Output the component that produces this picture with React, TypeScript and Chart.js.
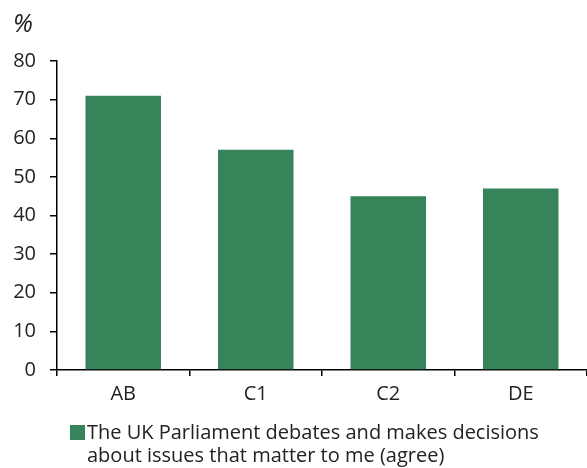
import React, { useEffect, useRef } from "react";
import { Chart, registerables } from "chart.js";

Chart.register(...registerables);

const categories = ["AB", "C1", "C2", "DE"];
const values = [71, 57, 45, 47];
const seriesLabel = "The UK Parliament debates and makes decisions about issues that matter to me (agree)";
const legendLines = ["The UK Parliament debates and makes decisions", "about issues that matter to me (agree)"];
const yTicks = [0, 10, 20, 30, 40, 50, 60, 70, 80];
const unitLabel = "%";

const FONT = "'Open Sans', sans-serif";
const GREEN = "#37845b";

export default function App() {
  const ref = useRef<HTMLCanvasElement | null>(null);
  useEffect(() => {
    document.body.style.margin = "0";
    const extras = {
      id: "extras",
      afterDraw(chart: any) {
        const ctx = chart.ctx;
        ctx.save();
        ctx.fillStyle = "#222";
        ctx.font = `italic 25px ${FONT}`;
        ctx.textBaseline = "alphabetic";
        ctx.textAlign = "left";
        ctx.fillText(unitLabel, 13, 32);
        // legend
        ctx.fillStyle = GREEN;
        ctx.fillRect(70, 425, 15, 15);
        ctx.fillStyle = "#222";
        ctx.font = `20px ${FONT}`;
        legendLines.forEach((l, i) => ctx.fillText(l, 87, 439 + i * 23));
        ctx.restore();
      },
    };
    const chart = new Chart(ref.current!, {
      type: "bar",
      data: {
        labels: categories,
        datasets: [
          {
            label: seriesLabel,
            data: values,
            backgroundColor: GREEN,
            borderWidth: 0,
            categoryPercentage: 1,
            barPercentage: 0.57,
          },
        ],
      },
      options: {
        animation: false,
        responsive: false,
        maintainAspectRatio: false,
        layout: { padding: { top: 61, right: 0, left: 0, bottom: 0 } },
        plugins: { legend: { display: false }, tooltip: { enabled: false } },
        scales: {
          x: {
            offset: true,
            grid: { offset: true, drawOnChartArea: false, color: "#000", tickLength: 6, lineWidth: 1.5 },
            border: { color: "#000", width: 1.5 },
            ticks: { color: "#222", font: { family: FONT, size: 20 }, padding: 6 },
            afterFit(scale: any) {
              scale.height = 98;
            },
          },
          y: {
            min: 0,
            max: 80,
            afterBuildTicks(scale: any) {
              scale.ticks = yTicks.map((v) => ({ value: v }));
            },
            grid: { drawOnChartArea: false, color: "#000", tickLength: 7, lineWidth: 1.5 },
            border: { color: "#000", width: 1.5 },
            ticks: { color: "#222", font: { family: FONT, size: 20 }, padding: 14 },
            afterFit(scale: any) {
              scale.width = 57;
            },
          },
        },
      },
      plugins: [extras],
    });
    return () => chart.destroy();
  }, []);
  return (
    <div style={{ position: "absolute", left: 0, top: 0, width: 587, height: 468 }}>
      <canvas ref={ref} width={587} height={468} style={{ display: "block" }} />
    </div>
  );
}
